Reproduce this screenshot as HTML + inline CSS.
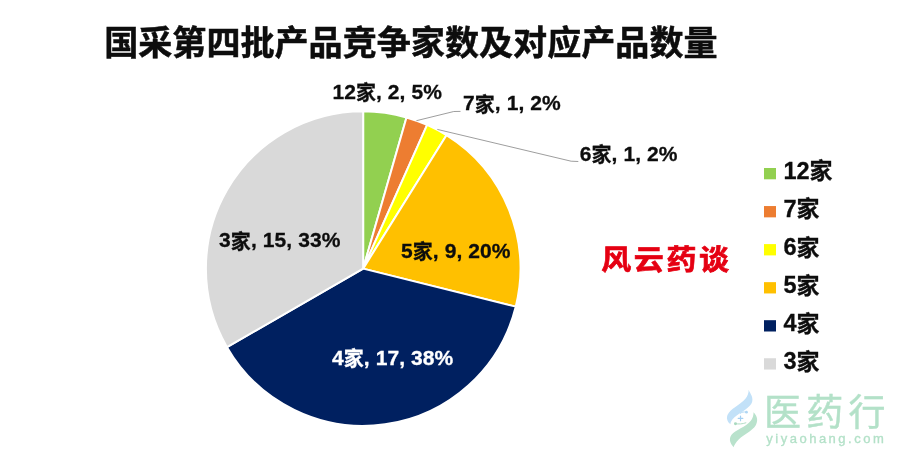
<!DOCTYPE html>
<html lang="zh-CN">
<head>
<meta charset="utf-8">
<title>国采第四批产品竞争家数及对应产品数量</title>
<style>
html,body{margin:0;padding:0;background:#fff;}
body{width:900px;height:459px;overflow:hidden;}
svg{display:block;}
text{font-family:"Liberation Sans","Noto Sans CJK SC",sans-serif;font-weight:700;fill:#0d0d0d;}
.title{font-size:34.1px;stroke:#0d0d0d;stroke-width:0.5px;}
.dl{font-size:21px;letter-spacing:0.08px;stroke:#0d0d0d;stroke-width:0.3px;}
.dl .cj{font-size:20px;}
.lg{font-size:23.5px;stroke:#0d0d0d;stroke-width:0.3px;}
.lg .cj{font-size:23px;}
.brand{font-size:30px;fill:#E50012;letter-spacing:2.6px;font-weight:700;stroke:#E50012;stroke-width:0.7px;}
.wm1{font-size:37px;font-weight:400;fill:#B3E1C8;stroke:#B3E1C8;stroke-width:0.4px;letter-spacing:5.3px;}
.wm2{font-size:13px;font-weight:400;fill:#B3E1C8;stroke:#B3E1C8;stroke-width:0.3px;letter-spacing:2.5px;}
</style>
</head>
<body>
<svg width="900" height="459" viewBox="0 0 900 459">
<rect width="900" height="459" fill="#ffffff"/>
<text x="104.15" y="54.5" class="title">国采第四批产品竞争家数及对应产品数量</text>
<g stroke="#ffffff" stroke-width="2" stroke-linejoin="round">
<path d="M363.15 268.60L363.15 111.35A157.25 157.25 0 0 1 406.49 117.44Z" fill="#92D050"/>
<path d="M363.15 268.60L406.49 117.44A157.25 157.25 0 0 1 427.11 124.94Z" fill="#ED7D31"/>
<path d="M363.15 268.60L427.11 124.94A157.25 157.25 0 0 1 446.48 135.24Z" fill="#FFFF00"/>
<path d="M363.15 268.60L446.48 135.24A157.25 157.25 0 0 1 515.73 306.64Z" fill="#FFC000"/>
<path d="M363.15 268.60L515.73 306.64A157.25 157.25 0 0 1 226.97 347.23Z" fill="#002060"/>
<path d="M363.15 268.60L226.97 347.23A157.25 157.25 0 0 1 363.15 111.35Z" fill="#D9D9D9"/>
</g>
<g fill="none" stroke="#9E9E9E" stroke-width="1">
<polyline points="416.4,120.7 453.8,111.5 460.5,111.4"/>
<polyline points="437.3,129.4 571.1,161.2 578.3,161.5"/>
</g>
<text x="332.4" y="98.7" class="dl">12<tspan class="cj" dy="1.1">家</tspan><tspan dy="-1.1">, 2, 5%</tspan></text>
<text x="463.0" y="110.4" class="dl">7<tspan class="cj" dy="1.1">家</tspan><tspan dy="-1.1">, 1, 2%</tspan></text>
<text x="579.7" y="161.1" class="dl">6<tspan class="cj" dy="1.1">家</tspan><tspan dy="-1.1">, 1, 2%</tspan></text>
<text x="401.0" y="257.6" class="dl">5<tspan class="cj" dy="1.1">家</tspan><tspan dy="-1.1">, 9, 20%</tspan></text>
<text x="332.0" y="364.5" class="dl" style="fill:#ffffff;stroke:#ffffff">4<tspan class="cj" dy="1.1">家</tspan><tspan dy="-1.1">, 17, 38%</tspan></text>
<text x="219.1" y="247.4" class="dl">3<tspan class="cj" dy="1.1">家</tspan><tspan dy="-1.1">, 15, 33%</tspan></text>
<rect x="764" y="168.00" width="12" height="11.3" fill="#92D050"/>
<text x="783.4" y="179.0" class="lg">12<tspan class="cj" dy="0.4">家</tspan></text>
<rect x="764" y="206.05" width="12" height="11.3" fill="#ED7D31"/>
<text x="783.4" y="217.05" class="lg">7<tspan class="cj" dy="0.4">家</tspan></text>
<rect x="764" y="244.10" width="12" height="11.3" fill="#FFFF00"/>
<text x="783.4" y="255.1" class="lg">6<tspan class="cj" dy="0.4">家</tspan></text>
<rect x="764" y="282.15" width="12" height="11.3" fill="#FFC000"/>
<text x="783.4" y="293.15" class="lg">5<tspan class="cj" dy="0.4">家</tspan></text>
<rect x="764" y="320.20" width="12" height="11.3" fill="#002060"/>
<text x="783.4" y="331.2" class="lg">4<tspan class="cj" dy="0.4">家</tspan></text>
<rect x="764" y="358.25" width="12" height="11.3" fill="#D9D9D9"/>
<text x="783.4" y="369.25" class="lg">3<tspan class="cj" dy="0.4">家</tspan></text>
<text transform="translate(601.2,270.2) scale(1,0.955)" class="brand">风云药谈</text>
<g id="wm">
<g transform="translate(718,384) scale(0.148148)">
<path d="M207 38C215 62 246 92 226 132C206 170 132 200 97 240C87 254 83 264 85 272C68 262 54 238 64 210C80 170 150 140 185 100C200 82 207 60 207 38Z" fill="#C2E1F8"/>
<path d="M240 190C256 206 276 236 256 276C236 316 152 350 126 390C116 405 108 418 105 427C85 405 70 375 90 345C115 310 190 290 220 250C235 230 240 210 240 190Z" fill="#B9E2CC"/>
<g fill="none" stroke-linecap="round">
<path d="M152 216V248M136 232H168" stroke="#A5D0F2" stroke-width="8"/>
<path d="M190 190C175 186 160 190 150 198" stroke="#AFD6F4" stroke-width="6"/>
<path d="M118 268C140 272 165 270 188 262" stroke="#A9D9BF" stroke-width="6"/>
</g>
<circle cx="192" cy="190" r="9.5" fill="#AFD6F4"/>
<circle cx="118" cy="268" r="10" fill="#A9D9BF"/>
</g>
<text x="764" y="426.4" class="wm1">医药行</text>
<text x="766.3" y="443" class="wm2">yiyaohang.com</text>
</g>
</svg>
</body>
</html>
